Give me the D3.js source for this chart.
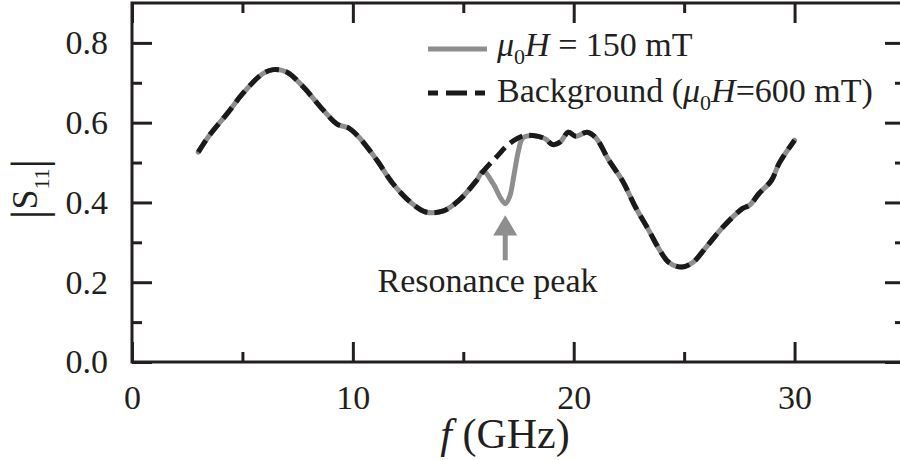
<!DOCTYPE html>
<html>
<head>
<meta charset="utf-8">
<script src="https://cdn.jsdelivr.net/npm/d3@7"></script>
<style>
  body { margin: 0; background: #fff; }
  svg { display: block; font-family: "Liberation Serif", "Times New Roman", serif; }
</style>
</head>
<body>
<div id="chart"></div>
<script>
// frequency (GHz) and |S11|
var bgFreq = [3.0, 3.5, 4.3, 5.0, 5.9, 6.4, 7.0, 7.75, 8.65, 9.3, 9.8, 10.3, 11.1, 11.8, 12.6, 13.3, 14.1, 14.8, 15.6, 15.9,
  16.5, 17.1, 17.7, 18.15, 18.7, 19.05, 19.4, 19.75, 20.1, 20.6, 21.0, 21.6, 22.2, 22.8, 23.4, 23.9, 24.3, 24.9, 25.4,
  26.0, 26.75, 27.65, 27.96, 28.4, 28.95, 29.3, 30.0];
var bgS11 = [0.526, 0.568, 0.622, 0.672, 0.722, 0.733, 0.727, 0.69, 0.632, 0.596, 0.587, 0.562, 0.505, 0.448, 0.401, 0.376, 0.379, 0.405, 0.455, 0.478,
  0.514, 0.548, 0.567, 0.568, 0.56, 0.545, 0.552, 0.576, 0.566, 0.576, 0.562, 0.505, 0.455, 0.388, 0.33, 0.28, 0.25, 0.238, 0.25,
  0.288, 0.338, 0.385, 0.393, 0.423, 0.455, 0.498, 0.556];

// 150 mT curve: same as background except around the resonance dip
var sigFreq = [3.0, 3.5, 4.3, 5.0, 5.9, 6.4, 7.0, 7.75, 8.65, 9.3, 9.8, 10.3, 11.1, 11.8, 12.6, 13.3, 14.1, 14.8, 15.6, 15.9,
  16.35, 16.7, 16.9, 17.1, 17.3, 17.5, 17.7, 18.15, 18.7, 19.05, 19.4, 19.75, 20.1, 20.6, 21.0, 21.6, 22.2, 22.8, 23.4, 23.9, 24.3, 24.9, 25.4,
  26.0, 26.75, 27.65, 27.96, 28.4, 28.95, 29.3, 30.0];
var sigS11 = [0.526, 0.568, 0.622, 0.672, 0.722, 0.733, 0.727, 0.69, 0.632, 0.596, 0.587, 0.562, 0.505, 0.448, 0.401, 0.376, 0.379, 0.405, 0.455, 0.478,
  0.447, 0.41, 0.397, 0.415, 0.47, 0.53, 0.562, 0.568, 0.56, 0.545, 0.552, 0.576, 0.566, 0.576, 0.562, 0.505, 0.455, 0.388, 0.33, 0.28, 0.25, 0.238, 0.25,
  0.288, 0.338, 0.385, 0.393, 0.423, 0.455, 0.498, 0.556];

var xMajor = [0, 10, 20, 30];
var xMinor = [5, 15, 25];
var yMajor = [0.0, 0.2, 0.4, 0.6, 0.8];
var yMinor = [0.1, 0.3, 0.5, 0.7];

// annotation: arrow at the dip
var arrowF = 16.9, arrowTipV = 0.368, arrowBaseV = 0.317, arrowTailV = 0.255;
var noteF = 16.1, noteV = 0.175;

var width = 900, height = 460;
var axisColor = '#231f20', grey = '#8e8e8e';
var fontSize = 34;

var svg = d3.select('#chart').append('svg')
  .attr('width', width).attr('height', height);

var x = d3.scaleLinear().domain([0, 35]).range([132, 905]);
var y = d3.scaleLinear().domain([0, 0.9]).range([362, 3]);

function styleAxis(g) {
  g.select('.domain').remove();
  g.selectAll('line').attr('stroke', axisColor).attr('stroke-width', 3);
  g.selectAll('text').attr('fill', axisColor).style('font-size', fontSize + 'px')
    .style('font-family', '"Liberation Serif", "Times New Roman", serif');
}

// bottom
svg.append('g').attr('transform', 'translate(0,' + y(0) + ')')
  .call(d3.axisBottom(x).tickValues(xMajor).tickSizeInner(-20).tickSizeOuter(0).tickPadding(23)
    .tickFormat(d3.format('d')))
  .call(styleAxis);
svg.append('g').attr('transform', 'translate(0,' + y(0) + ')')
  .call(d3.axisBottom(x).tickValues(xMinor).tickSizeInner(-10).tickSizeOuter(0).tickFormat(''))
  .call(styleAxis);
// top
svg.append('g').attr('transform', 'translate(0,' + y(0.9) + ')')
  .call(d3.axisTop(x).tickValues(xMajor).tickSizeInner(-20).tickSizeOuter(0).tickFormat(''))
  .call(styleAxis);
svg.append('g').attr('transform', 'translate(0,' + y(0.9) + ')')
  .call(d3.axisTop(x).tickValues(xMinor).tickSizeInner(-10).tickSizeOuter(0).tickFormat(''))
  .call(styleAxis);
// left
svg.append('g').attr('transform', 'translate(' + x(0) + ',0)')
  .call(d3.axisLeft(y).tickValues(yMajor).tickSizeInner(-20).tickSizeOuter(0).tickPadding(24)
    .tickFormat(d3.format('.1f')))
  .call(styleAxis);
svg.append('g').attr('transform', 'translate(' + x(0) + ',0)')
  .call(d3.axisLeft(y).tickValues(yMinor).tickSizeInner(-10).tickSizeOuter(0).tickFormat(''))
  .call(styleAxis);
// right
svg.append('g').attr('transform', 'translate(' + x(35) + ',0)')
  .call(d3.axisRight(y).tickValues(yMajor).tickSizeInner(-20).tickSizeOuter(0).tickFormat(''))
  .call(styleAxis);
svg.append('g').attr('transform', 'translate(' + x(35) + ',0)')
  .call(d3.axisRight(y).tickValues(yMinor).tickSizeInner(-10).tickSizeOuter(0).tickFormat(''))
  .call(styleAxis);

// frame
svg.append('rect')
  .attr('x', x(0)).attr('y', y(0.9))
  .attr('width', x(35) - x(0)).attr('height', y(0) - y(0.9))
  .attr('fill', 'none').attr('stroke', axisColor).attr('stroke-width', 3);

// curves
var line = d3.line()
  .x(function(d) { return x(d[0]); })
  .y(function(d) { return y(d[1]); })
  .curve(d3.curveCatmullRom.alpha(0.5));

var sigData = d3.zip(sigFreq, sigS11);
var bgData = d3.zip(bgFreq, bgS11);

svg.append('path').datum(sigData)
  .attr('d', line).attr('fill', 'none')
  .attr('stroke', grey).attr('stroke-width', 5).attr('stroke-linejoin', 'round').attr('stroke-linecap', 'round');

svg.append('path').datum(bgData)
  .attr('d', line).attr('fill', 'none')
  .attr('stroke', '#1a1a1a').attr('stroke-width', 5).attr('stroke-dasharray', '14,7');

// arrow + note
var ax = x(arrowF);
svg.append('line')
  .attr('x1', ax).attr('x2', ax)
  .attr('y1', y(arrowBaseV) - 1).attr('y2', y(arrowTailV))
  .attr('stroke', grey).attr('stroke-width', 5);
svg.append('path')
  .attr('d', 'M' + ax + ',' + y(arrowTipV) + 'L' + (ax + 12) + ',' + y(arrowBaseV) + 'L' + (ax - 12) + ',' + y(arrowBaseV) + 'Z')
  .attr('fill', grey);
svg.append('text')
  .attr('x', x(noteF)).attr('y', y(noteV))
  .attr('text-anchor', 'middle')
  .attr('fill', axisColor)
  .style('font-size', fontSize + 'px')
  .text('Resonance peak');

// axis titles
var xt = svg.append('text')
  .attr('x', 505).attr('y', 448)
  .attr('text-anchor', 'middle')
  .attr('fill', axisColor)
  .style('font-size', '42px');
xt.append('tspan').style('font-style', 'italic').text('f');
xt.append('tspan').text(' (GHz)');

var yt = svg.append('text')
  .attr('transform', 'translate(37,189) rotate(-90)')
  .attr('text-anchor', 'middle')
  .attr('fill', axisColor)
  .style('font-size', '36px');
yt.append('tspan').style('font-size', '48px').attr('dy', 8).text('|');
yt.append('tspan').attr('dy', -8).text('S');
yt.append('tspan').style('font-size', '22px').attr('dy', 12).text('11');
yt.append('tspan').style('font-size', '48px').attr('dy', -4).text('|');

// legend
var legend = svg.append('g');
legend.append('line')
  .attr('x1', 428).attr('x2', 487).attr('y1', 49).attr('y2', 49)
  .attr('stroke', grey).attr('stroke-width', 5);
legend.append('line')
  .attr('x1', 428).attr('x2', 487).attr('y1', 93).attr('y2', 93)
  .attr('stroke', '#1a1a1a').attr('stroke-width', 5).attr('stroke-dasharray', '10,8,21,8,10');

function muH(t) {
  t.append('tspan').style('font-style', 'italic').text('μ');
  t.append('tspan').style('font-size', '22px').attr('dy', 8).text('0');
  t.append('tspan').style('font-style', 'italic').attr('dy', -8).text('H');
}
var l1 = legend.append('text').attr('x', 497).attr('y', 56).attr('fill', axisColor).style('font-size', fontSize + 'px');
muH(l1);
l1.append('tspan').text(' = 150 mT');

var l2 = legend.append('text').attr('x', 497).attr('y', 102).attr('fill', axisColor).style('font-size', fontSize + 'px');
l2.append('tspan').text('Background (');
muH(l2);
l2.append('tspan').text('=600 mT)');
</script>
</body>
</html>
